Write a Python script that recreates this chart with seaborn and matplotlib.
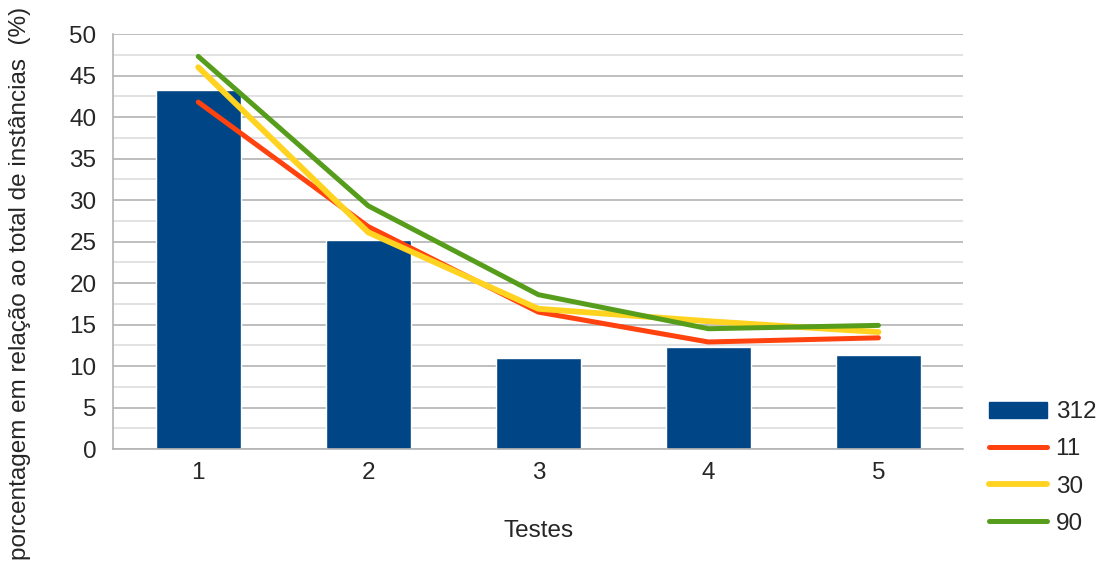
import numpy as np
import pandas as pd
import matplotlib
matplotlib.use("Agg")
import matplotlib.pyplot as plt
from matplotlib.ticker import MultipleLocator, FixedLocator, NullFormatter
from matplotlib.patches import Patch
from matplotlib.lines import Line2D
import seaborn as sns

# data
testes = ["1", "2", "3", "4", "5"]
s312 = [43.2, 25.2, 11.0, 12.3, 11.3]
s11 = [41.8, 26.8, 16.5, 12.9, 13.4]
s30 = [46.0, 26.1, 16.9, 15.4, 14.1]
s90 = [47.3, 29.3, 18.6, 14.5, 14.9]

series = {"11": (s11, "#ff420e", 3.6), "30": (s30, "#ffd320", 4.2), "90": (s90, "#579d1c", 3.6)}
bar_color = "#004586"
fs = 17.5

sns.set_style("white")
plt.rcParams['font.family'] = ['Liberation Sans', 'DejaVu Sans']

fig = plt.figure(figsize=(11.1, 5.67), dpi=100)
ax = fig.add_axes([0.102, 0.208, 0.766, 0.732])

bars_df = pd.DataFrame({"teste": testes, "valor": s312})
sns.barplot(data=bars_df, x="teste", y="valor", color=bar_color, width=0.5,
            saturation=1, ax=ax, zorder=2)

pos = np.arange(len(testes))
for name, (vals, col, lw) in series.items():
    sns.lineplot(x=pos, y=vals, color=col, linewidth=lw, ax=ax, zorder=3)

ax.set_xlim(-0.5, len(testes) - 0.5)
ax.set_ylim(0, 50)
ax.yaxis.set_major_locator(MultipleLocator(5))
ax.yaxis.set_minor_locator(MultipleLocator(2.5))
ax.yaxis.set_minor_formatter(NullFormatter())
ax.grid(True, which="major", axis="y", color="#b3b3b3", linewidth=1.2, zorder=0)
ax.grid(True, which="minor", axis="y", color="#dddddd", linewidth=1.2, zorder=0)
ax.set_axisbelow(True)

ax.xaxis.set_minor_locator(FixedLocator(np.arange(-0.5, len(testes), 1.0)))
ax.tick_params(axis="x", which="major", length=0, labelsize=fs, pad=9)
ax.tick_params(axis="x", which="minor", length=7, color="#b3b3b3", direction="out")
ax.tick_params(axis="y", which="major", length=7, color="#b3b3b3", direction="out",
               labelsize=fs, pad=5)
ax.tick_params(axis="y", which="minor", length=0)

for side in ["top", "right"]:
    ax.spines[side].set_visible(False)
for side in ["left", "bottom"]:
    ax.spines[side].set_color("#b3b3b3")
    ax.spines[side].set_linewidth(1.2)

ax.set_xlabel("Testes", fontsize=fs, labelpad=26)
ax.set_ylabel("porcentagem em relação ao total de instâncias  (%)", fontsize=fs)
ax.yaxis.set_label_coords(-0.097, 0.4, transform=ax.transAxes)

handles = [Patch(color=bar_color, label="312")]
for name, (vals, col, lw) in series.items():
    handles.append(Line2D([0], [0], color=col, linewidth=lw, label=name))
leg = fig.legend(handles=handles, loc="lower left", bbox_to_anchor=(0.882, 0.04),
                 borderaxespad=0, frameon=False, fontsize=fs, handlelength=2.4,
                 handleheight=0.65, labelspacing=0.62, handletextpad=0.35)

fig.savefig("out.png", dpi=100)
